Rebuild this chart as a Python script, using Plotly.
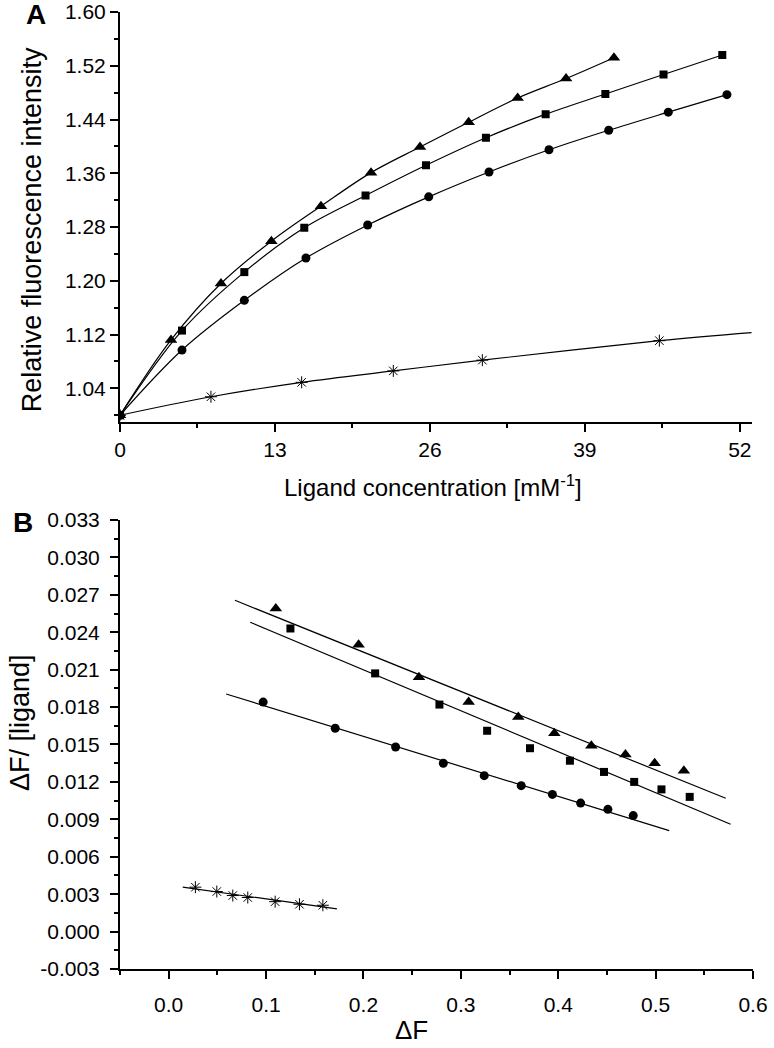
import plotly.graph_objects as go

# ---------------- Panel A data ----------------
a_tri_x = [0, 4.28, 8.47, 12.7, 16.86, 21.06, 25.17, 29.25, 33.36, 37.42, 41.44]
a_tri_y = [1.0, 1.112, 1.196, 1.259, 1.311, 1.361, 1.399, 1.436, 1.472, 1.501, 1.532]

a_sq_x = [0, 5.2, 10.43, 15.46, 20.6, 25.67, 30.7, 35.71, 40.72, 45.6, 50.53]
a_sq_y = [1.0, 1.126, 1.213, 1.279, 1.327, 1.372, 1.413, 1.448, 1.478, 1.507, 1.536]

a_circ_x = [0, 5.2, 10.43, 15.6, 20.78, 25.9, 30.96, 35.99, 41.0, 46.0, 50.92]
a_circ_y = [1.0, 1.097, 1.171, 1.234, 1.283, 1.325, 1.362, 1.395, 1.424, 1.451, 1.477]

a_star_x = [0, 7.63, 15.24, 22.93, 30.4, 45.25]
a_star_y = [1.0, 1.0275, 1.049, 1.066, 1.082, 1.111]
a_star_line_x = [0, 7.63, 15.24, 22.93, 30.4, 45.25, 53.0]
a_star_line_y = [1.0, 1.0275, 1.049, 1.066, 1.082, 1.111, 1.123]

# ---------------- Panel B data ----------------
b_tri_x = [0.110, 0.195, 0.257, 0.308, 0.359, 0.396, 0.434, 0.469, 0.499, 0.529]
b_tri_y = [0.0259, 0.0230, 0.0204, 0.0184, 0.0172, 0.0159, 0.0149, 0.0142, 0.0135, 0.0129]
b_tri_fit_x = [0.068, 0.572]
b_tri_fit_y = [0.02656, 0.01069]

b_sq_x = [0.125, 0.212, 0.278, 0.327, 0.371, 0.412, 0.447, 0.478, 0.506, 0.535]
b_sq_y = [0.0243, 0.0207, 0.0182, 0.0161, 0.0147, 0.0137, 0.0128, 0.0120, 0.0114, 0.0108]
b_sq_fit_x = [0.0837, 0.577]
b_sq_fit_y = [0.0248, 0.00861]

b_circ_x = [0.097, 0.171, 0.233, 0.282, 0.324, 0.362, 0.394, 0.423, 0.451, 0.477]
b_circ_y = [0.0184, 0.0163, 0.0148, 0.0135, 0.0125, 0.0117, 0.0110, 0.0103, 0.0098, 0.0093]
b_circ_fit_x = [0.059, 0.514]
b_circ_fit_y = [0.01905, 0.00809]

b_star_x = [0.0274, 0.0494, 0.0658, 0.0812, 0.1093, 0.1343, 0.1583]
b_star_y = [0.00356, 0.00321, 0.00289, 0.00273, 0.00240, 0.00219, 0.00211]
b_star_fit_x = [0.0144, 0.1727]
b_star_fit_y = [0.00356, 0.00182]

b_ytick_vals = [-0.003, 0.0, 0.003, 0.006, 0.009, 0.012, 0.015, 0.018, 0.021, 0.024, 0.027, 0.030, 0.033]
b_ytick_text = ["-0.003", "0.000", "0.003", "0.006", "0.009", "0.012", "0.015",
                "0.018", "0.021", "0.024", "0.027", "0.030", "0.033"]

FONT = "Arial, Liberation Sans, sans-serif"
BLACK = "black"

fig = go.Figure()

def curve(x, y, xa, ya, spline=True):
    fig.add_trace(go.Scatter(
        x=x, y=y, mode="lines", xaxis=xa, yaxis=ya,
        line=dict(color=BLACK, width=1.2, shape="spline" if spline else "linear"),
        hoverinfo="skip", showlegend=False))

def pts(x, y, xa, ya, symbol, size, lw=0):
    fig.add_trace(go.Scatter(
        x=x, y=y, mode="markers", xaxis=xa, yaxis=ya,
        marker=dict(symbol=symbol, size=size, color=BLACK,
                    line=dict(color=BLACK, width=lw)),
        showlegend=False))

# Panel A
curve(a_star_line_x, a_star_line_y, "x", "y")
curve(a_circ_x, a_circ_y, "x", "y")
curve(a_sq_x, a_sq_y, "x", "y")
curve(a_tri_x, a_tri_y, "x", "y")
pts(a_star_x, a_star_y, "x", "y", "asterisk-open", 10, 1)
pts(a_circ_x, a_circ_y, "x", "y", "circle", 9)
pts(a_sq_x, a_sq_y, "x", "y", "square", 8)
pts(a_tri_x, a_tri_y, "x", "y", "triangle-up", 11)

# Panel B
curve(b_tri_fit_x, b_tri_fit_y, "x2", "y2", False)
curve(b_sq_fit_x, b_sq_fit_y, "x2", "y2", False)
curve(b_circ_fit_x, b_circ_fit_y, "x2", "y2", False)
curve(b_star_fit_x, b_star_fit_y, "x2", "y2", False)
pts(b_tri_x, b_tri_y, "x2", "y2", "triangle-up", 11)
pts(b_sq_x, b_sq_y, "x2", "y2", "square", 8)
pts(b_circ_x, b_circ_y, "x2", "y2", "circle", 9)
pts(b_star_x, b_star_y, "x2", "y2", "asterisk-open", 10, 1)

tickfont = dict(family=FONT, size=21, color=BLACK)
common = dict(showline=True, linecolor=BLACK, linewidth=2, ticks="outside",
              ticklen=8, tickwidth=1.5, tickcolor=BLACK, showgrid=False,
              zeroline=False, tickfont=tickfont, mirror=False, automargin=False)
minor = dict(ticks="outside", ticklen=4, tickwidth=1.5, tickcolor=BLACK, showgrid=False)

def label(text, x, y, size, angle=0):
    return dict(text=text, x=x, y=y, xref="paper", yref="paper", showarrow=False,
                textangle=angle, font=dict(family=FONT, size=size, color=BLACK),
                xanchor="center", yanchor="middle")

fig.update_layout(
    width=774, height=1048,
    margin=dict(l=120, r=21, t=12, b=79),
    paper_bgcolor="white", plot_bgcolor="white",
    font=dict(family=FONT, color=BLACK),
    xaxis=dict(domain=[0, 0.998], range=[0, 53], tick0=0, dtick=13,
               minor=dict(dtick=6.5, **minor), anchor="y", **common),
    yaxis=dict(domain=[0.5716, 1], range=[0.99, 1.60], tick0=1.04, dtick=0.08,
               tickformat=".2f", minor=dict(dtick=0.04, **minor), anchor="x", **common),
    xaxis2=dict(domain=[0, 1], range=[-0.05, 0.6], tick0=0, dtick=0.1,
                tickformat=".1f", minor=dict(dtick=0.05, **minor), anchor="y2",
                ticklabelstandoff=8, **common),
    yaxis2=dict(domain=[0, 0.4692], range=[-0.003, 0.033],
                tickmode="array", tickvals=b_ytick_vals, ticktext=b_ytick_text,
                minor=dict(tickmode="linear", tick0=0, dtick=0.0015, **minor), anchor="x2",
                ticklabelstandoff=6, **common),
    annotations=[
        label("<b>A</b>", -0.133, 0.997, 28),
        label("<b>B</b>", -0.153, 0.467, 28),
        label("Ligand concentration [mM<sup>-1</sup>]", 0.4945, 0.505, 24),
        label("Relative fluorescence intensity", -0.139, 0.772, 27, -90),
        label("ΔF", 0.461, -0.064, 26),
        label("ΔF/ [ligand]", -0.158, 0.258, 27, -90),
    ],
)

fig.write_html("out.html", config={"displayModeBar": False},
               post_script="document.body.style.margin='0';")
